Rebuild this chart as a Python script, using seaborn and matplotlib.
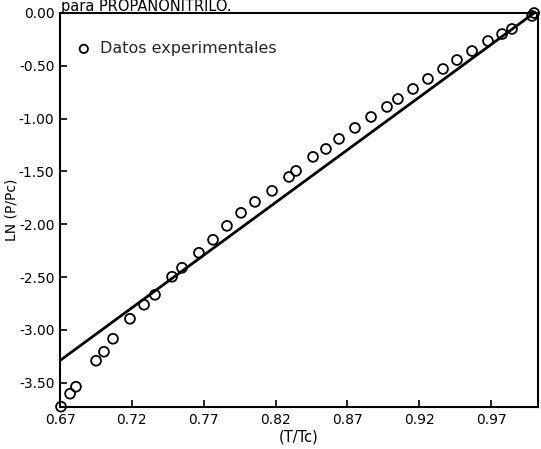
import matplotlib
matplotlib.use("Agg")
import matplotlib.pyplot as plt
import seaborn as sns
import pandas as pd

# Experimental data: reduced temperature vs ln(reduced pressure)
tr_exp = [0.6707, 0.6770, 0.6811, 0.6951, 0.7006, 0.7069, 0.7187, 0.7285, 0.7361,
          0.7480, 0.7549, 0.7667, 0.7765, 0.7862, 0.7960, 0.8057, 0.8176, 0.8294,
          0.8343, 0.8461, 0.8551, 0.8642, 0.8753, 0.8865, 0.8976, 0.9052, 0.9157,
          0.9261, 0.9366, 0.9463, 0.9568, 0.9679, 0.9777, 0.9846, 0.9986, 1.0000]
lnpr_exp = [-3.727, -3.604, -3.538, -3.292, -3.207, -3.084, -2.895, -2.762, -2.668,
            -2.497, -2.412, -2.270, -2.147, -2.015, -1.892, -1.788, -1.684, -1.552,
            -1.495, -1.362, -1.287, -1.192, -1.088, -0.984, -0.889, -0.814, -0.719,
            -0.624, -0.530, -0.445, -0.360, -0.265, -0.199, -0.151, -0.028, 0.000]

# Fitted line
tr_fit = [0.67, 1.00]
lnpr_fit = [-3.29, 0.00]

x_ticks = [0.67, 0.72, 0.77, 0.82, 0.87, 0.92, 0.97]
y_ticks = [0.00, -0.50, -1.00, -1.50, -2.00, -2.50, -3.00, -3.50]

sns.set_theme(style="white")
plt.rcParams['font.family'] = ['DejaVu Sans']
plt.rcParams['axes.unicode_minus'] = False

fig = plt.figure(figsize=(5.41, 4.49), dpi=100)
ax = fig.add_axes([60/541, 1-407/449, 478/541, 394/449])

df_exp = pd.DataFrame({"tr": tr_exp, "lnpr": lnpr_exp})
df_fit = pd.DataFrame({"tr": tr_fit, "lnpr": lnpr_fit})

sns.lineplot(data=df_fit, x="tr", y="lnpr", color="black", linewidth=2.0, ax=ax,
             legend=False, zorder=2)
sns.scatterplot(data=df_exp, x="tr", y="lnpr", marker="o", s=50, facecolor="none",
                edgecolor="black", linewidth=1.3, ax=ax, label="Datos experimentales",
                zorder=3, clip_on=False)

ax.set_xlim(0.67, 1.0027)
ax.set_ylim(-3.73, 0.0)
ax.set_xticks(x_ticks)
ax.set_xticklabels([f"{v:.2f}" for v in x_ticks])
ax.set_yticks(y_ticks)
ax.set_yticklabels([f"{v:.2f}" for v in y_ticks])
ax.tick_params(direction="in", length=5, width=1.2, colors="black", labelsize=10,
               bottom=True, left=True, pad=4)

for sp in ax.spines.values():
    sp.set_visible(True)
    sp.set_color("black")
    sp.set_linewidth(1.5)

ax.set_xlabel("(T/Tc)", fontsize=10.5, color="black", labelpad=2)
ax.set_ylabel("LN (P/Pc)", fontsize=10, color="black", labelpad=0)

leg = ax.legend(loc="upper left", bbox_to_anchor=(0.003, 0.945), frameon=False,
                handletextpad=0.0, fontsize=11.5, borderaxespad=0, markerscale=0.85)

fig.text(61/541, 1-11/449, "para PROPANONITRILO.", fontsize=10.5, ha="left",
         va="baseline", color="black")

fig.savefig("out.png", dpi=100, facecolor="white")
